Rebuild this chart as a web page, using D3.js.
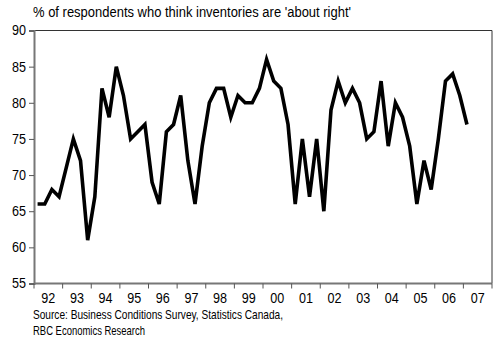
<!DOCTYPE html>
<html><head><meta charset="utf-8">
<script src="https://cdn.jsdelivr.net/npm/d3@7"></script>
<style>
html,body{margin:0;padding:0;background:#fff;}
svg text{font-family:"Liberation Sans Narrow","Arial Narrow","Liberation Sans",sans-serif;fill:#000;}
</style></head>
<body><svg id="c" width="494" height="339"></svg>
<script>
const subtitle = "% of respondents who think inventories are 'about right'";
const sourceLines = ["Source:  Business Conditions Survey, Statistics Canada,", "RBC Economics Research"];
const yearLabels = ["92","93","94","95","96","97","98","99","00","01","02","03","04","05","06","07"];
const yTicks = [55,60,65,70,75,80,85,90];
// quarterly, 1992Q1 .. 2007Q1
const values = [
  66,66,68,67, 71,75,72,61, 67,82,78,85, 81,75,76,77,
  69,66,76,77, 81,72,66,74, 80,82,82,78, 81,80,80,82,
  86,83,82,77, 66,75,67,75, 65,79,83,80, 82,80,75,76,
  83,74,80,78, 74,66,72,68, 75,83,84,81, 77
];

const svg = d3.select("#c");
const L = 34, R = 492, T = 30.5, B = 283.5;
const nQ = yearLabels.length * 4;
const x = d3.scaleLinear().domain([0, nQ]).range([L, R]);
const y = d3.scaleLinear().domain([55, 90]).range([B, T]);

// frame (top/right)
svg.append("path")
  .attr("d", `M${L},${T}H${R}V${B}`)
  .attr("fill","none").attr("stroke","#333").attr("stroke-width",1);

// y axis
const yAxis = d3.axisLeft(y).tickValues(yTicks).tickSize(5).tickPadding(3).tickFormat(d3.format("d"));
const gy = svg.append("g").attr("transform",`translate(${L},0)`).call(yAxis);
gy.select(".domain").attr("stroke","#777").attr("stroke-width",2);
gy.selectAll(".tick line").attr("stroke","#555");
gy.selectAll("text").style("font-size","14px").attr("fill","#000")
  .attr("textLength",14).attr("lengthAdjust","spacingAndGlyphs");

// x axis: ticks at year boundaries, labels centered in year
const xYear = d3.scaleBand().domain(yearLabels).range([L, R]);
const gx = svg.append("g").attr("transform",`translate(0,${B})`);
gx.append("line").attr("x1",L).attr("x2",R).attr("y1",0).attr("y2",0)
  .attr("stroke","#777").attr("stroke-width",2);
gx.selectAll(".tk").data(d3.range(1, yearLabels.length + 1)).enter().append("line")
  .attr("x1", d => x(d*4)).attr("x2", d => x(d*4)).attr("y1",0).attr("y2",5)
  .attr("stroke","#555");
gx.append("line").attr("x1",L).attr("x2",L).attr("y1",0).attr("y2",5).attr("stroke","#555");
gx.selectAll(".lb").data(yearLabels).enter().append("text")
  .attr("x", d => xYear(d) + xYear.bandwidth()/2)
  .attr("y", 19)
  .attr("text-anchor","middle")
  .style("font-size","14px")
  .attr("textLength",14).attr("lengthAdjust","spacingAndGlyphs")
  .text(d => d);

// line
const line = d3.line().x((d,i) => x(i + 0.5)).y(d => y(d));
svg.append("path").datum(values)
  .attr("d", line)
  .attr("fill","none").attr("stroke","#000").attr("stroke-width",3.6)
  .attr("stroke-linejoin","miter");

// subtitle
svg.append("text").attr("x",33).attr("y",17).style("font-size","14px")
  .attr("textLength",318).attr("lengthAdjust","spacingAndGlyphs").text(subtitle);

// source
const srcLen = [250, 112];
svg.selectAll(".src").data(sourceLines).enter().append("text")
  .attr("x",33).attr("y",(d,i) => 319 + i*16)
  .style("font-size","13px")
  .attr("textLength",(d,i) => srcLen[i]).attr("lengthAdjust","spacingAndGlyphs")
  .text(d => d);
</script>
</body></html>
